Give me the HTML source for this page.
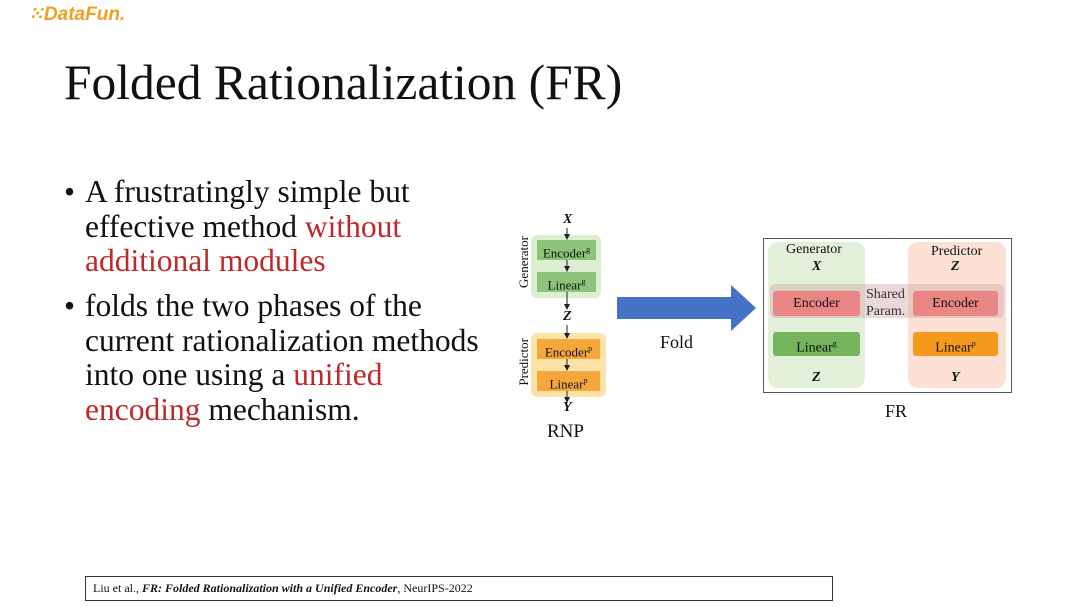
<!DOCTYPE html>
<html><head><meta charset="utf-8"><style>
body{margin:0;width:1080px;height:607px;background:#fff;position:relative;overflow:hidden;font-family:"Liberation Serif",serif;color:#111}
.a{position:absolute;white-space:nowrap}
.r{color:#c0282a}
.bx{position:absolute;box-sizing:border-box}
.c{text-align:center}
.v{position:absolute;writing-mode:vertical-rl;transform:rotate(180deg);font-size:13px;white-space:nowrap}
</style></head><body>
<div class="a" style="left:28px;top:3px;font-family:'Liberation Sans',sans-serif;font-style:italic;font-weight:bold;font-size:19px;color:#f0a020">⁙DataFun.</div>
<div class="a" style="left:64px;top:54px;font-size:49.5px">Folded Rationalization (FR)</div>
<div class="a" style="left:64px;top:175px;font-size:31.5px;line-height:34.5px">•</div>
<div class="a" style="left:85px;top:175px;font-size:31.5px;line-height:34.5px">A frustratingly simple but<br>effective method <span class="r">without</span><br><span class="r">additional modules</span></div>
<div class="a" style="left:64px;top:289px;font-size:31.5px;line-height:34.5px">•</div>
<div class="a" style="left:85px;top:289px;font-size:31.5px;line-height:34.5px">folds the two phases of the<br>current rationalization methods<br>into one using a <span class="r">unified</span><br><span class="r">encoding</span> mechanism.</div>

<!-- RNP -->
<div class="bx" style="left:531px;top:235px;width:70px;height:63px;background:#dcedd0;border-radius:6px"></div>
<div class="bx c" style="left:537px;top:240px;width:59px;height:20px;background:#8cc47a;font-size:13px;line-height:20px">Encoder<sup style="font-size:8px">g</sup></div>
<div class="bx c" style="left:537px;top:272px;width:59px;height:20px;background:#8cc47a;font-size:13px;line-height:20px">Linear<sup style="font-size:8px">g</sup></div>
<div class="bx" style="left:531px;top:333px;width:75px;height:64px;background:#fde3a8;border-radius:6px"></div>
<div class="bx c" style="left:537px;top:339px;width:63px;height:20px;background:#f6a63a;font-size:13px;line-height:20px">Encoder<sup style="font-size:8px">p</sup></div>
<div class="bx c" style="left:537px;top:371px;width:63px;height:20px;background:#f6a63a;font-size:13px;line-height:20px">Linear<sup style="font-size:8px">p</sup></div>
<div class="v" style="left:516px;top:236px">Generator</div>
<div class="v" style="left:516px;top:338px">Predictor</div>
<div class="a" style="left:563px;top:212px;font-size:14px;font-weight:bold;font-style:italic">X</div>
<div class="a" style="left:563px;top:309px;font-size:14px;font-weight:bold;font-style:italic">Z</div>
<div class="a" style="left:563px;top:400px;font-size:14px;font-weight:bold;font-style:italic">Y</div>
<div class="a" style="left:547px;top:421px;font-size:19px">RNP</div>
<svg class="a" style="left:0;top:0" width="1080" height="607">
<defs><marker id="m" markerWidth="6" markerHeight="6" refX="5" refY="3" orient="auto"><path d="M0,0 L6,3 L0,6 z" fill="#222"/></marker></defs>
<g stroke="#222" stroke-width="1" marker-end="url(#m)">
<line x1="567" y1="228" x2="567" y2="239"/><line x1="567" y1="260" x2="567" y2="271"/><line x1="567" y1="292" x2="567" y2="309"/>
<line x1="567" y1="325" x2="567" y2="338"/><line x1="567" y1="359" x2="567" y2="370"/><line x1="567" y1="391" x2="567" y2="402"/>
<line x1="817" y1="275" x2="817" y2="290"/><line x1="817" y1="316" x2="817" y2="331"/><line x1="817" y1="357" x2="817" y2="372"/>
<line x1="956" y1="275" x2="956" y2="290"/><line x1="956" y1="316" x2="956" y2="331"/><line x1="956" y1="357" x2="956" y2="372"/>
</g>
<polygon points="617,297 731,297 731,285 756,308 731,331 731,319 617,319" fill="#4472c4"/>
</svg>
<div class="a" style="left:660px;top:332px;font-size:18px">Fold</div>

<!-- FR -->
<div class="bx" style="left:763px;top:238px;width:249px;height:155px;border:1.5px solid #555"></div>
<div class="bx" style="left:768px;top:242px;width:97px;height:146px;background:#e2efd9;border-radius:10px"></div>
<div class="bx" style="left:908px;top:242px;width:98px;height:146px;background:#fbe0d3;border-radius:10px"></div>
<div class="bx" style="left:770px;top:284px;width:234px;height:34px;background:rgba(210,170,170,0.45);border-radius:5px"></div>
<div class="bx c" style="left:773px;top:291px;width:87px;height:25px;background:#e98585;font-size:14px;line-height:25px;border-radius:3px">Encoder</div>
<div class="bx c" style="left:913px;top:291px;width:85px;height:25px;background:#e98585;font-size:14px;line-height:25px;border-radius:3px">Encoder</div>
<div class="bx c" style="left:773px;top:332px;width:87px;height:24px;background:#74b45c;font-size:14px;line-height:24px;border-radius:3px">Linear<sup style="font-size:8px">g</sup></div>
<div class="bx c" style="left:913px;top:332px;width:85px;height:24px;background:#f59a1c;font-size:14px;line-height:24px;border-radius:3px">Linear<sup style="font-size:8px">p</sup></div>
<div class="a" style="left:786px;top:242px;font-size:14px">Generator</div>
<div class="a" style="left:931px;top:244px;font-size:14px">Predictor</div>
<div class="a" style="left:866px;top:286px;font-size:14px;line-height:17px;color:#333">Shared<br>Param.</div>
<div class="a" style="left:812px;top:259px;font-size:14px;font-weight:bold;font-style:italic">X</div>
<div class="a" style="left:951px;top:259px;font-size:14px;font-weight:bold;font-style:italic">Z</div>
<div class="a" style="left:812px;top:370px;font-size:14px;font-weight:bold;font-style:italic">Z</div>
<div class="a" style="left:951px;top:370px;font-size:14px;font-weight:bold;font-style:italic">Y</div>
<div class="a" style="left:885px;top:401px;font-size:18px">FR</div>

<div class="bx" style="left:85px;top:576px;width:748px;height:25px;border:1px solid #333"></div>
<div class="a" style="left:93px;top:581px;font-size:12px">Liu et al., <b><i>FR: Folded Rationalization with a Unified Encoder</i></b>, NeurIPS-2022</div>
</body></html>
